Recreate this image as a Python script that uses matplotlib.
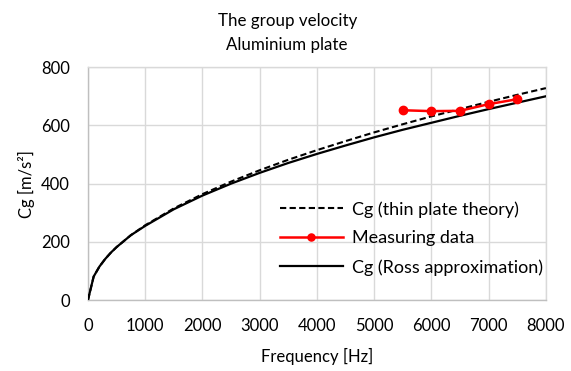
"""Group velocity of bending waves in an aluminium plate."""
import matplotlib
matplotlib.use("Agg")
import matplotlib.pyplot as plt

plt.rcParams['font.family'] = ['Lato', 'DejaVu Sans']

# values
freq = [0, 100, 200, 300, 400, 500, 750, 1000, 1500, 2000, 2500, 3000, 3500,
        4000, 4500, 5000, 5500, 6000, 6500, 7000, 7500, 8000]
cg_thin = [0, 81, 115, 141, 163, 182, 223, 257, 315, 364, 407, 446, 482,
           515, 546, 576, 604, 631, 656, 681, 705, 728]
cg_ross = [0, 81, 115, 141, 163, 182, 223, 255, 312, 359, 400, 437, 471,
           502, 531, 559, 585, 609, 633, 656, 678, 700]

meas_freq = [5500, 6000, 6500, 7000, 7500]
meas_cg = [652, 649, 650, 673, 690]

xticks = list(range(0, 8001, 1000))
yticks = list(range(0, 801, 200))

fig = plt.figure(figsize=(5.71, 3.71), dpi=100)
ax = fig.add_axes([0.154, 0.191, 0.802, 0.628])

ax.plot(freq, cg_thin, color='black', linestyle=(0, (3, 1.6)), linewidth=1.5,
        label='Cg (thin plate theory)', zorder=3)
ax.plot(meas_freq, meas_cg, color='#FF0000', linewidth=1.8, marker='o',
        markersize=6, label='Measuring data', zorder=4)
ax.plot(freq, cg_ross, color='black', linewidth=1.6,
        label='Cg (Ross approximation)', zorder=3)

ax.set_xlim(0, 8000)
ax.set_ylim(0, 800)
ax.set_xticks(xticks)
ax.set_yticks(yticks)
ax.tick_params(length=0, labelsize=12, pad=13)
ax.grid(True, color='#D9D9D9', linewidth=1)
ax.set_axisbelow(True)
for side in ['top', 'right']:
    ax.spines[side].set_color('#D9D9D9')
for side in ['left', 'bottom']:
    ax.spines[side].set_color('#BFBFBF')
for s in ax.spines.values():
    s.set_linewidth(1)

ax.set_xlabel('Frequency [Hz]', fontsize=12, labelpad=10)
ax.set_ylabel('Cg [m/s²]', fontsize=12, labelpad=4)

fig.text(0.503, 0.912, 'The group velocity\nAluminium plate', ha='center',
         va='center', fontsize=12.2, linespacing=1.6)

ax.legend(loc='upper left', bbox_to_anchor=(0.419, 0.425), frameon=False,
          fontsize=13, handlelength=3.5, handletextpad=0.5,
          labelspacing=0.7, borderaxespad=0, borderpad=0, markerscale=0.85)

fig.savefig('out.png', dpi=100)
